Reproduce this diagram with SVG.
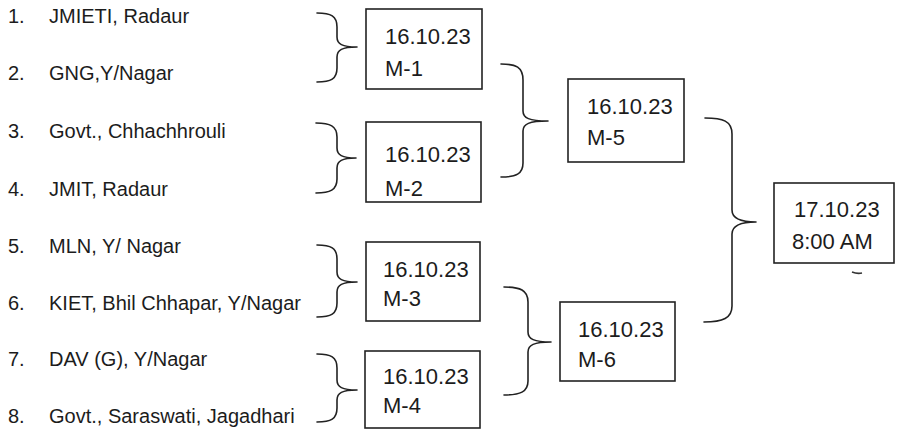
<svg xmlns="http://www.w3.org/2000/svg" width="897" height="430" viewBox="0 0 897 430">
  <style>
    .bg { fill: #ffffff; }
    .team { font-family: "Liberation Sans", Arial, sans-serif; font-size: 20px; fill: #1c1c1c; }
    .lbl { font-family: "Liberation Sans", Arial, sans-serif; font-size: 22px; fill: #1c1c1c; }
    .box { fill: none; stroke: #222222; stroke-width: 1.6; }
    .brace { fill: none; stroke: #222222; stroke-width: 1.6; stroke-linecap: round; stroke-linejoin: round; }
  </style>
  <rect class="bg" x="0" y="0" width="897" height="430"/>

  <g id="teams">
    <g id="team-1"><text class="team" x="8" y="23">1.</text><text class="team" x="49" y="23">JMIETI, Radaur</text></g>
    <g id="team-2"><text class="team" x="8" y="80">2.</text><text class="team" x="49" y="80">GNG,Y/Nagar</text></g>
    <g id="team-3"><text class="team" x="8" y="138">3.</text><text class="team" x="49" y="138">Govt., Chhachhrouli</text></g>
    <g id="team-4"><text class="team" x="8" y="196">4.</text><text class="team" x="49" y="196">JMIT, Radaur</text></g>
    <g id="team-5"><text class="team" x="8" y="253">5.</text><text class="team" x="49" y="253">MLN, Y/ Nagar</text></g>
    <g id="team-6"><text class="team" x="8" y="310">6.</text><text class="team" x="49" y="310">KIET, Bhil Chhapar, Y/Nagar</text></g>
    <g id="team-7"><text class="team" x="8" y="366">7.</text><text class="team" x="49" y="366">DAV (G), Y/Nagar</text></g>
    <g id="team-8"><text class="team" x="8" y="423">8.</text><text class="team" x="49" y="423">Govt., Saraswati, Jagadhari</text></g>
  </g>

  <g id="connectors">
    <path class="brace" d="M317,13 C331,13 337,16 337,27 L337,37 C337,44 342,47 357,47 C342,47 337,50 337,57 L337,68 C337,79 331,82 317,82"/>
    <path class="brace" d="M316,123 C330,123 337,126 337,137 L337,148 C337,155 342,158 356,158 C342,158 337,161 337,168 L337,179 C337,190 330,193 316,193"/>
    <path class="brace" d="M317,245 C331,245 337,248 337,259 L337,272 C337,279 342,282 357,282 C342,282 337,285 337,292 L337,303 C337,314 331,317 317,317"/>
    <path class="brace" d="M317,354 C331,354 337,357 337,368 L337,380 C337,387 342,390 357,390 C342,390 337,393 337,400 L337,408 C337,419 331,422 317,422"/>
    <path class="brace" d="M501,64 C516,64 523,67 523,80 L523,111 C523,118 529,121 548,121 C529,121 523,124 523,131 L523,163 C523,174 516,177 501,177"/>
    <path class="brace" d="M504,287 C520,287 528,290 528,302 L528,332 C528,339 534,342 551,342 C534,342 528,345 528,352 L528,381 C528,392 520,395 504,395"/>
    <path class="brace" d="M705,118 C723,118 732,121 732,134 L732,210 C732,218 739,222 756,222 C739,222 732,226 732,234 L732,306 C732,318 723,322 704,322"/>
  </g>

  <g id="m1"><rect class="box" x="366" y="9" width="116" height="80"/><text class="lbl" x="385" y="44">16.10.23</text><text class="lbl" x="385" y="76">M-1</text></g>
  <g id="m2"><rect class="box" x="366" y="122" width="115" height="80"/><text class="lbl" x="385" y="162">16.10.23</text><text class="lbl" x="385" y="196">M-2</text></g>
  <g id="m3"><rect class="box" x="366" y="242" width="114" height="79"/><text class="lbl" x="383" y="277">16.10.23</text><text class="lbl" x="383" y="306">M-3</text></g>
  <g id="m4"><rect class="box" x="365" y="351" width="115" height="77"/><text class="lbl" x="383" y="384">16.10.23</text><text class="lbl" x="383" y="413">M-4</text></g>
  <g id="m5"><rect class="box" x="568" y="79" width="116" height="83"/><text class="lbl" x="587" y="114">16.10.23</text><text class="lbl" x="587" y="145">M-5</text></g>
  <g id="m6"><rect class="box" x="560" y="302" width="115" height="79"/><text class="lbl" x="578" y="337">16.10.23</text><text class="lbl" x="578" y="367">M-6</text></g>
  <g id="final"><rect class="box" x="774" y="183" width="120" height="80"/><text class="lbl" x="794" y="217">17.10.23</text><text class="lbl" x="792" y="249">8:00 AM</text></g>

  <path d="M852,272 Q857,274 862,273" fill="none" stroke="#333333" stroke-width="1.6"/>
</svg>
